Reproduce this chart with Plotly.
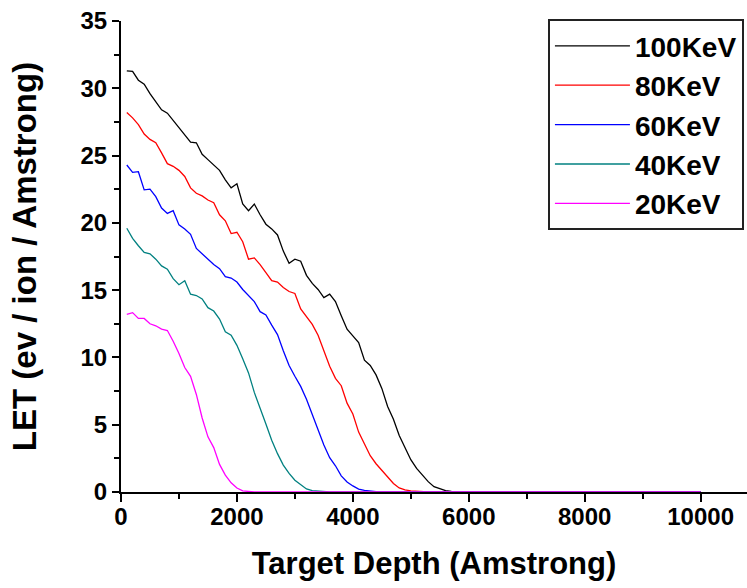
import plotly.graph_objects as go

# Target depth (Angstrom) sample positions
depth = [100, 200, 300, 400, 500, 600, 700, 800, 900, 1000,
         1100, 1200, 1300, 1400, 1500, 1600, 1700, 1800, 1900, 2000,
         2100, 2200, 2300, 2400, 2500, 2600, 2700, 2800, 2900, 3000,
         3100, 3200, 3300, 3400, 3500, 3600, 3700, 3800, 3900, 4000,
         4100, 4200, 4300, 4400, 4500, 4600, 4700, 4800, 4900, 5000,
         5100, 5200, 5300, 5400, 5500, 5600, 5700, 5800, 5900, 6000,
         10000]

let_100kev = [31.3, 31.25, 30.6, 30.3, 29.6, 29.0, 28.4, 28.15, 27.6, 27.1,
              26.5, 26.0, 25.95, 25.1, 24.7, 24.3, 23.9, 23.2, 22.6, 22.9,
              21.4, 20.9, 21.4, 20.6, 19.9, 19.55, 19.1, 17.9, 17.0, 17.3,
              17.15, 16.1, 15.5, 15.05, 14.45, 14.7, 14.15, 13.1, 12.1, 11.6,
              11.1, 9.8, 9.4, 8.7, 7.7, 6.35, 5.4, 4.2, 3.35, 2.4,
              1.75, 1.25, 0.77, 0.4, 0.27, 0.1, 0.05, 0.02, 0.01, 0.0,
              0.0]

let_80kev = [28.2, 27.8, 27.3, 26.6, 26.2, 25.95, 25.2, 24.4, 24.2, 23.9,
             23.45, 22.6, 22.2, 22.0, 21.7, 21.5, 20.6, 20.15, 19.2, 19.3,
             18.6, 17.3, 17.4, 16.9, 16.3, 15.7, 15.6, 15.2, 14.9, 14.75,
             13.6, 13.05, 12.45, 11.65, 10.5, 9.35, 8.45, 7.9, 6.6, 5.8,
             4.45, 3.55, 2.7, 2.1, 1.6, 1.1, 0.63, 0.3, 0.15, 0.08,
             0.04, 0.02, 0.01, 0.0, 0.0, 0.0, 0.0, 0.0, 0.0, 0.0,
             0.0]

let_60kev = [24.3, 23.75, 23.8, 22.45, 22.5, 21.95, 21.1, 20.7, 20.9, 19.85,
             19.55, 19.15, 18.1, 17.7, 17.3, 16.9, 16.6, 16.0, 15.9, 15.6,
             15.05, 14.6, 14.15, 13.4, 13.15, 12.4, 11.7, 10.5, 9.4, 8.6,
             7.85, 6.9, 5.75, 4.55, 3.5, 2.55, 1.95, 1.2, 0.75, 0.45,
             0.22, 0.12, 0.06, 0.02, 0.0, 0.0, 0.0, 0.0, 0.0, 0.0,
             0.0, 0.0, 0.0, 0.0, 0.0, 0.0, 0.0, 0.0, 0.0, 0.0,
             0.0]

let_40kev = [19.6, 18.85, 18.3, 17.8, 17.7, 17.3, 16.8, 16.55, 15.85, 15.4,
             15.7, 14.7, 14.6, 14.35, 13.7, 13.45, 12.85, 11.9, 11.65, 10.9,
             9.9, 8.85, 7.4, 6.15, 5.05, 3.85, 2.85, 2.0, 1.38, 0.88,
             0.52, 0.23, 0.1, 0.05, 0.02, 0.0, 0.0, 0.0, 0.0, 0.0,
             0.0, 0.0, 0.0, 0.0, 0.0, 0.0, 0.0, 0.0, 0.0, 0.0,
             0.0, 0.0, 0.0, 0.0, 0.0, 0.0, 0.0, 0.0, 0.0, 0.0,
             0.0]

let_20kev = [13.2, 13.33, 12.9, 12.9, 12.5, 12.35, 12.1, 12.0, 11.2, 10.3,
             9.25, 8.6, 7.25, 5.5, 4.1, 3.3, 2.05, 1.25, 0.68, 0.3,
             0.08, 0.02, 0.0, 0.0, 0.0, 0.0, 0.0, 0.0, 0.0, 0.0,
             0.0, 0.0, 0.0, 0.0, 0.0, 0.0, 0.0, 0.0, 0.0, 0.0,
             0.0, 0.0, 0.0, 0.0, 0.0, 0.0, 0.0, 0.0, 0.0, 0.0,
             0.0, 0.0, 0.0, 0.0, 0.0, 0.0, 0.0, 0.0, 0.0, 0.0,
             0.0]

series_names = ["100KeV", "80KeV", "60KeV", "40KeV", "20KeV"]
series_values = [let_100kev, let_80kev, let_60kev, let_40kev, let_20kev]
series_colors = ["#000000", "#FF0000", "#0000FF", "#008080", "#FF00FF"]

FONT = "Liberation Sans, Arial, sans-serif"

fig = go.Figure()
for name, vals, col in zip(series_names, series_values, series_colors):
    fig.add_trace(go.Scatter(x=depth, y=vals, mode="lines", name=name,
                             line=dict(color=col, width=1.3)))

axis_common = dict(
    showline=True, linecolor="black", linewidth=2,
    showgrid=False, zeroline=False,
    ticks="outside", tickcolor="black", tickwidth=2,
    tickfont=dict(family=FONT, size=24, color="black", weight="bold"),
    layer="below traces",
)

fig.update_xaxes(
    range=[0, 10800], tickmode="linear", tick0=0, dtick=2000, ticklen=8,
    tickformat="d", ticklabelstandoff=-6,
    minor=dict(ticks="outside", dtick=1000, ticklen=5, tickcolor="black", tickwidth=2),
    title=dict(text="Target Depth (Amstrong)", standoff=24,
               font=dict(family=FONT, size=31, color="black", weight="bold")),
    **axis_common,
)
fig.update_yaxes(
    range=[0, 35], tickmode="linear", tick0=0, dtick=5, ticklen=7,
    minor=dict(ticks="outside", dtick=2.5, ticklen=5, tickcolor="black", tickwidth=2),
    title=dict(text="LET (ev / ion / Amstrong)", standoff=34,
               font=dict(family=FONT, size=33, color="black", weight="bold")),
    **axis_common,
)

fig.update_layout(
    width=747, height=588,
    margin=dict(l=121, r=0, t=21, b=96, autoexpand=False),
    paper_bgcolor="white", plot_bgcolor="white",
    showlegend=True,
    legend=dict(
        x=0.682, y=1.004, xanchor="left", yanchor="top",
        bgcolor="white", bordercolor="#222222", borderwidth=2,
        font=dict(family=FONT, size=28, color="black", weight="bold"),
        itemwidth=75, tracegroupgap=0,
    ),
)

fig.write_html("out.html")
